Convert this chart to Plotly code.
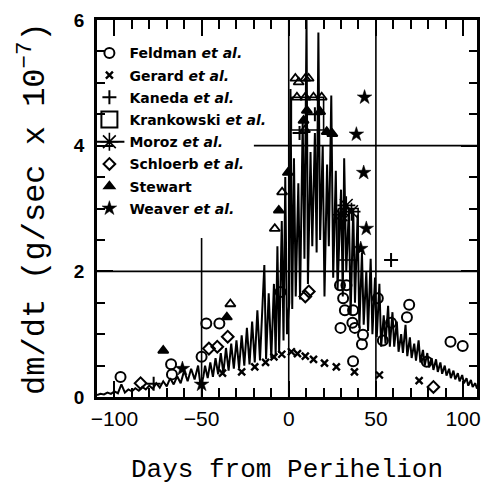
import plotly.graph_objects as go

# ---------------- data ----------------
moroz_days = [-110, -108, -106, -104, -102, -100, -98, -96, -94, -92, -90, -88, -86, -84, -82, -80,
              -78, -76, -74, -72, -70, -68, -66, -64, -62, -60, -58, -56, -54, -52, -50.5, -49,
              -48, -46.5, -45, -43.5, -42, -40.5, -39, -37.5, -36, -34.5, -33, -31.5, -30, -28.5,
              -27, -25.5, -24, -22.5, -21, -19.5, -18, -16.5, -15, -14, -13, -11.5, -10, -8.5,
              -7.5, -6.5, -5.5, -4, -3, -2, -1,
              0.3, 1, 2, 3, 4, 5.5, 6.5, 8, 9, 10.2, 11, 12.5, 13.5, 15, 16, 17, 18, 19.5, 20.5,
              22, 23, 24.4, 25.5, 27, 28, 30, 31, 31.8, 33, 34.5, 35.5, 37, 38, 39.5, 40.5, 42,
              43, 44.5, 45.5, 47, 48, 49.5, 50.5, 52, 53, 54.5, 55.5, 57, 58, 59.5, 60.5, 62, 63,
              64.5, 65.5, 67, 68, 69.5, 70.5, 72, 73, 74.5, 75.5, 77, 78, 79.5, 80.5, 82, 83,
              84.5, 85.5, 87, 88, 89.5, 90.5, 92, 93, 94.5, 95.5, 97, 98, 99.5, 100.5, 102, 103,
              104.5, 105.5, 107, 108]
moroz_rate = [0.03, 0.05, 0.04, 0.07, 0.05, 0.09, 0.06, 0.2, 0.07, 0.12, 0.09, 0.14, 0.1, 0.16, 0.12, 0.18,
              0.13, 0.22, 0.15, 0.25, 0.17, 0.3, 0.2, 0.33, 0.22, 0.42, 0.25, 0.45, 0.28, 0.5, 0.15, 0.32,
              0.5, 0.3, 0.55, 0.32, 0.62, 0.36, 0.7, 0.38, 0.78, 0.42, 0.85, 0.45, 0.9, 0.46,
              0.98, 0.5, 1.1, 0.52, 1.2, 0.55, 1.38, 0.58, 1.5, 2.1, 0.6, 1.65, 0.62, 1.8,
              0.65, 2.4, 0.7, 2.8, 0.9, 3.5, 1.0,
              1.5, 4.9, 1.4, 3.8, 1.6, 3.4, 1.55, 4.4, 2.2, 6.0, 1.8, 3.9, 2.4, 4.2, 2.3, 5.8, 2.5, 4.0, 1.6,
              3.7, 2.4, 4.8, 1.9, 3.6, 1.7, 3.3, 1.6, 3.8, 2.0, 3.0, 1.3, 3.0, 1.5, 2.9, 1.1, 2.3,
              1.15, 2.0, 1.05, 2.2, 1.0, 1.9, 0.95, 1.8, 0.8, 1.3, 0.85, 1.45, 0.8, 1.35, 0.8, 1.2, 0.72,
              1.0, 0.7, 1.15, 0.65, 0.95, 0.62, 0.85, 0.58, 0.9, 0.55, 0.75, 0.5, 0.7, 0.47, 0.62, 0.43,
              0.6, 0.4, 0.55, 0.37, 0.5, 0.34, 0.45, 0.3, 0.42, 0.28, 0.38, 0.25, 0.35, 0.22, 0.3, 0.18,
              0.27, 0.16, 0.22, 0.13]

moroz_star_days = [30, 33, 36]
moroz_star_rate = [2.9, 3.05, 2.95]

feldman_days = [-96.5, -67.5, -67, -50, -47.3, -39.8, -4.7, 29.4, 33.1, 31.2, 32.2, 36.9, 29.7, 36.5,
                37.9, 42.6, 42, 51.1, 54, 69.1, 67.8, 58.7, 92.8, 99.8, 79.2, 36.9]
feldman_rate = [0.32, 0.52, 0.36, 0.64, 1.17, 1.17, 1.67, 1.78, 1.78, 1.57, 1.38, 1.38, 1.1, 1.18,
                1.1, 0.99, 0.84, 1.57, 0.9, 1.47, 1.27, 1.18, 0.88, 0.81, 0.56, 0.57]

gerard_days = [-38, -27, -19.5, -13.3, -8.5, -4, 1.5, 5, 9.5, 14.2, 20.5, 27.3, 37.7, 52, 74.8]
gerard_rate = [0.38, 0.4, 0.48, 0.55, 0.64, 0.68, 0.72, 0.69, 0.65, 0.6, 0.54, 0.48, 0.4, 0.35, 0.26]

kaneda_days = [-77.5, 6.2, 15, 58.7]
kaneda_rate = [0.21, 4.2, 4.5, 2.18]

# Krankowski: two boxes (day ranges x rate ranges)
krank_days = [28.4, 39.8, 39.8, 28.4, 28.4, None, 1.5, 20, 20, 1.5, 1.5]
krank_rate = [3.0, 3.0, 2.18, 2.18, 3.0, None, 4.77, 4.77, 4.25, 4.25, 4.77]

schloerb_days = [-85, -45.8, -41, -35, 9.5, 11.5, 83]
schloerb_rate = [0.22, 0.77, 0.8, 0.96, 1.6, 1.68, 0.16]

stewart_days = [-72, -33.5, -35.5, -8, -5.7, -3.8, -0.5, 3.8, 5.7, 9.5, 11.4, 4.7, 9.5, 14.2, 18.9,
                10.4, 18, 8.5, 9.3, 21.8, 25]
stewart_rate = [0.74, 1.48, 1.27, 2.68, 2.97, 3.26, 3.57, 5.07, 5.01, 5.07, 5.07, 4.77, 4.77, 4.77, 4.77,
                4.56, 4.54, 4.4, 4.25, 4.22, 4.19]
stewart_open = [False, True, False, True, False, True, False, True, True, True, True, True, True, True, True,
                False, False, False, True, False, False]

weaver_days = [-61, -50, 43.5, 38.8, 43, 44.5, 41.3]
weaver_rate = [0.45, 0.2, 4.77, 4.18, 3.57, 2.68, 2.36]

x_ticks = [-100, -50, 0, 50, 100]
y_ticks = [0, 2, 4, 6]

# ---------------- figure ----------------
BLACK = "#000000"
fig = go.Figure()

# reference grid segments of the original figure
seg_style = dict(color=BLACK, width=1.6)
fig.add_shape(type="line", x0=0, x1=0, y0=0, y1=6, line=seg_style, layer="below")
fig.add_shape(type="line", x0=50, x1=50, y0=0, y1=6, line=seg_style, layer="below")
fig.add_shape(type="line", x0=-50, x1=-50, y0=0, y1=2.53, line=seg_style, layer="below")
fig.add_shape(type="line", x0=-110, x1=108, y0=2, y1=2, line=seg_style, layer="below")
fig.add_shape(type="line", x0=-20, x1=108, y0=4, y1=4, line=seg_style, layer="below")

fig.add_trace(go.Scatter(x=moroz_days, y=moroz_rate, mode="lines",
                         line=dict(color=BLACK, width=2), showlegend=False, hoverinfo="skip",
                         legendgroup="moroz"))

fig.add_trace(go.Scatter(x=feldman_days, y=feldman_rate, mode="markers",
                         name="<b>Feldman <i>et al.</i></b>", legendrank=1, legendgroup="feldman",
                         marker=dict(symbol="circle-open", size=10, color=BLACK, line=dict(width=2, color=BLACK))))
fig.add_trace(go.Scatter(x=gerard_days, y=gerard_rate, mode="markers",
                         name="<b>Gerard <i>et al.</i></b>", legendrank=2, legendgroup="gerard",
                         marker=dict(symbol="x-thin-open", size=7, color=BLACK, line=dict(width=2.4, color=BLACK))))
fig.add_trace(go.Scatter(x=kaneda_days, y=kaneda_rate, mode="markers",
                         name="<b>Kaneda <i>et al.</i></b>", legendrank=3, legendgroup="kaneda",
                         marker=dict(symbol="cross-thin-open", size=10, color=BLACK, line=dict(width=2, color=BLACK))))
fig.add_trace(go.Scatter(x=krank_days, y=krank_rate, mode="lines", legendgroup="krank",
                         line=dict(color=BLACK, width=1.6), showlegend=False, hoverinfo="skip"))
fig.add_trace(go.Scatter(x=[None], y=[None], mode="markers",
                         name="<b>Krankowski <i>et al.</i></b>", legendrank=4, legendgroup="krank",
                         marker=dict(symbol="square-open", size=16, color=BLACK, line=dict(width=2, color=BLACK))))
fig.add_trace(go.Scatter(x=moroz_star_days, y=moroz_star_rate, mode="lines+markers",
                         name="<b>Moroz <i>et al.</i></b>", legendrank=5, legendgroup="moroz",
                         line=dict(color=BLACK, width=1.8),
                         marker=dict(symbol="asterisk-open", size=15, color=BLACK, line=dict(width=1.6, color=BLACK))))
fig.add_trace(go.Scatter(x=schloerb_days, y=schloerb_rate, mode="markers",
                         name="<b>Schloerb <i>et al.</i></b>", legendrank=6, legendgroup="schloerb",
                         marker=dict(symbol="diamond-open", size=9, color=BLACK, line=dict(width=2, color=BLACK))))
fig.add_trace(go.Scatter(x=stewart_days, y=stewart_rate, mode="markers",
                         name="<b>Stewart</b>", legendrank=7, legendgroup="stewart",
                         marker=dict(symbol=["triangle-up-open" if o else "triangle-up" for o in stewart_open],
                                     size=9, color=BLACK, line=dict(width=1.8, color=BLACK))))
fig.add_trace(go.Scatter(x=weaver_days, y=weaver_rate, mode="markers",
                         name="<b>Weaver <i>et al.</i></b>", legendrank=8, legendgroup="weaver",
                         marker=dict(symbol="star", size=11, color=BLACK, line=dict(width=0.5, color=BLACK))))

axis_common = dict(showline=True, linecolor=BLACK, linewidth=2.5, mirror="allticks",
                   ticks="inside", tickcolor=BLACK, tickwidth=2, ticklen=16,
                   showgrid=False, zeroline=False)

fig.update_xaxes(range=[-110, 108], tickmode="array", tickvals=x_ticks,
                 ticktext=["\u2212100", "\u221250", "0", "50", "100"],
                 tickfont=dict(family="Liberation Sans", size=21, color=BLACK),
                 ticklabelstandoff=1,
                 minor=dict(dtick=10, ticks="inside", ticklen=9, tickwidth=1.6, tickcolor=BLACK, showgrid=False),
                 **axis_common)
fig.update_yaxes(range=[0, 6], tickmode="array", tickvals=y_ticks,
                 tickfont=dict(family="Liberation Sans", size=19, color=BLACK, weight="bold"),
                 ticklabelstandoff=6,
                 minor=dict(dtick=0.5, ticks="inside", ticklen=8, tickwidth=1.6, tickcolor=BLACK, showgrid=False),
                 **axis_common)

fig.add_annotation(text="Days from Perihelion", xref="paper", yref="paper", x=0.5, y=-0.193,
                   xanchor="center", yanchor="middle", showarrow=False,
                   font=dict(family="Liberation Mono", size=26, color=BLACK))
fig.add_annotation(text="dm/dt (g/sec x 10<sup>\u22127</sup>)", xref="paper", yref="paper",
                   x=-0.17, y=0.5, xanchor="center", yanchor="middle", textangle=-90, showarrow=False,
                   font=dict(family="Liberation Mono", size=32, color=BLACK))

fig.update_layout(
    width=486, height=497,
    margin=dict(l=97, r=6, t=20, b=100),
    paper_bgcolor="white", plot_bgcolor="white",
    showlegend=True,
    legend=dict(x=-0.02, y=0.954, xanchor="left", yanchor="top", bgcolor="rgba(0,0,0,0)",
                borderwidth=0, font=dict(family="DejaVu Sans", size=14, color=BLACK),
                itemwidth=30, tracegroupgap=1),
)

fig.write_html("out.html", config={"displayModeBar": False},
               post_script="document.body.style.margin='0px';")
